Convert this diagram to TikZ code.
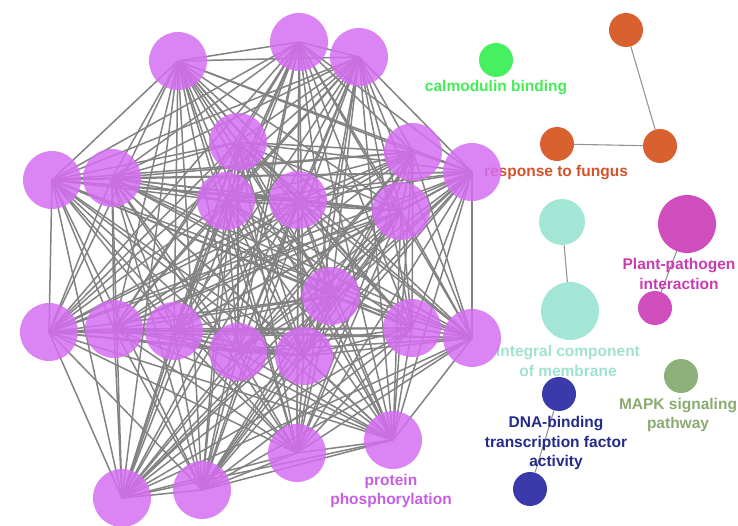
\documentclass[tikz,border=0pt]{standalone}
\usepackage{fontspec}
\setmainfont{Liberation Sans}
\usetikzlibrary{positioning}
\definecolor{cpurple}{RGB}{213,110,242}
\definecolor{cgreen}{RGB}{70,240,96}
\definecolor{corange}{RGB}{217,96,47}
\definecolor{cmagenta}{RGB}{208,77,190}
\definecolor{cteal}{RGB}{164,230,214}
\definecolor{cblue}{RGB}{58,58,170}
\definecolor{cmapk}{RGB}{141,176,122}
\definecolor{cedge}{RGB}{130,130,130}
\definecolor{tpurple}{RGB}{198,94,226}
\definecolor{tgreen}{RGB}{68,236,85}
\definecolor{torange}{RGB}{210,82,42}
\definecolor{tmagenta}{RGB}{200,60,174}
\definecolor{tteal}{RGB}{160,226,208}
\definecolor{tblue}{RGB}{35,42,138}
\definecolor{tmapk}{RGB}{138,170,112}
\pgfdeclarelayer{edges}
\pgfdeclarelayer{labels}
\pgfsetlayers{edges,labels,main}
\tikzset{%
	term/.style      = {circle, inner sep=0pt, minimum size=58pt, fill opacity=0.85}, % large term
	midterm/.style   = {term, minimum size=46pt},
	smallterm/.style = {term, minimum size=34pt, fill opacity=1},
	link/.style      = {draw=cedge, line width=1.5pt},
	thinlink/.style  = {draw=cedge!85, line width=1.1pt},
	lbl/.style       = {font=\bfseries\fontsize{15.5}{19.5}\selectfont, align=center, inner sep=0pt},
}

\begin{document}
\begin{tikzpicture}[x=1pt,y=-1pt]
	\useasboundingbox (0,0) rectangle (738,526);

	% protein phosphorylation cluster
	\foreach \n/\x/\y in {1/178/61, 2/299/42, 3/359/57, 4/238/142, 5/413/152,
		6/472/172, 7/52/180, 8/112/178, 9/298/200, 10/226/201, 11/401/211,
		12/331/296, 13/49/332, 14/114/329, 15/174/331, 16/238/352, 17/304/356,
		18/412/328, 19/472/338, 20/297/453, 21/393/440, 22/122/498, 23/202/490}
		\node [term, fill=cpurple] (p\n) at (\x,\y) {};

	% other groups
	\node [smallterm, fill=cgreen] (calm) at (496,60) {};
	\node [smallterm, fill=corange] (fung1) at (626,30) {};
	\node [smallterm, fill=corange] (fung2) at (557,144) {};
	\node [smallterm, fill=corange] (fung3) at (660,146) {};
	\node [midterm, fill=cteal, fill opacity=1] (memb1) at (562,222) {};
	\node [term, fill=cteal, fill opacity=1] (memb2) at (570,311) {};
	\node [term, fill=cmagenta, fill opacity=1] (path1) at (687,224) {};
	\node [smallterm, fill=cmagenta] (path2) at (655,308) {};
	\node [smallterm, fill=cmapk] (mapk) at (681,376) {};
	\node [smallterm, fill=cblue] (dna1) at (559,394) {};
	\node [smallterm, fill=cblue] (dna2) at (530,489) {};

	\begin{pgfonlayer}{edges}
		\foreach \i in {1,...,22} {
			\pgfmathtruncatemacro\k{\i+1}
			\foreach \j in {\k,...,23}
				\draw[link] (p\i.center) -- (p\j.center);
		}
		\draw[thinlink] (fung1) -- (fung3);
		\draw[thinlink] (fung2) -- (fung3);
		\draw[thinlink] (memb1) -- (memb2);
		\draw[thinlink] (path1) -- (path2);
		\draw[thinlink] (dna1) -- (dna2);
	\end{pgfonlayer}

	\begin{pgfonlayer}{labels}
		\node [lbl, text=tgreen] (calmlbl) at (496,88) {calmodulin binding};
		\node [lbl, text=torange] (funglbl) at (556,173) {response to fungus};
		\node [lbl, text=tmagenta] (pathlbl) at (679,274) {Plant-pathogen\\interaction};
		\node [lbl, text=tteal] (memblbl) at (568,361) {Integral component\\of membrane};
		\node [lbl, text=tmapk] (mapklbl) at (678,415) {MAPK signaling\\pathway};
		\node [lbl, text=tblue] (dnalbl) at (556,443) {DNA-binding\\transcription factor\\activity};
		\node [lbl, text=tpurple] (phoslbl) at (391,491) {protein\\phosphorylation};
	\end{pgfonlayer}
\end{tikzpicture}
\end{document}
